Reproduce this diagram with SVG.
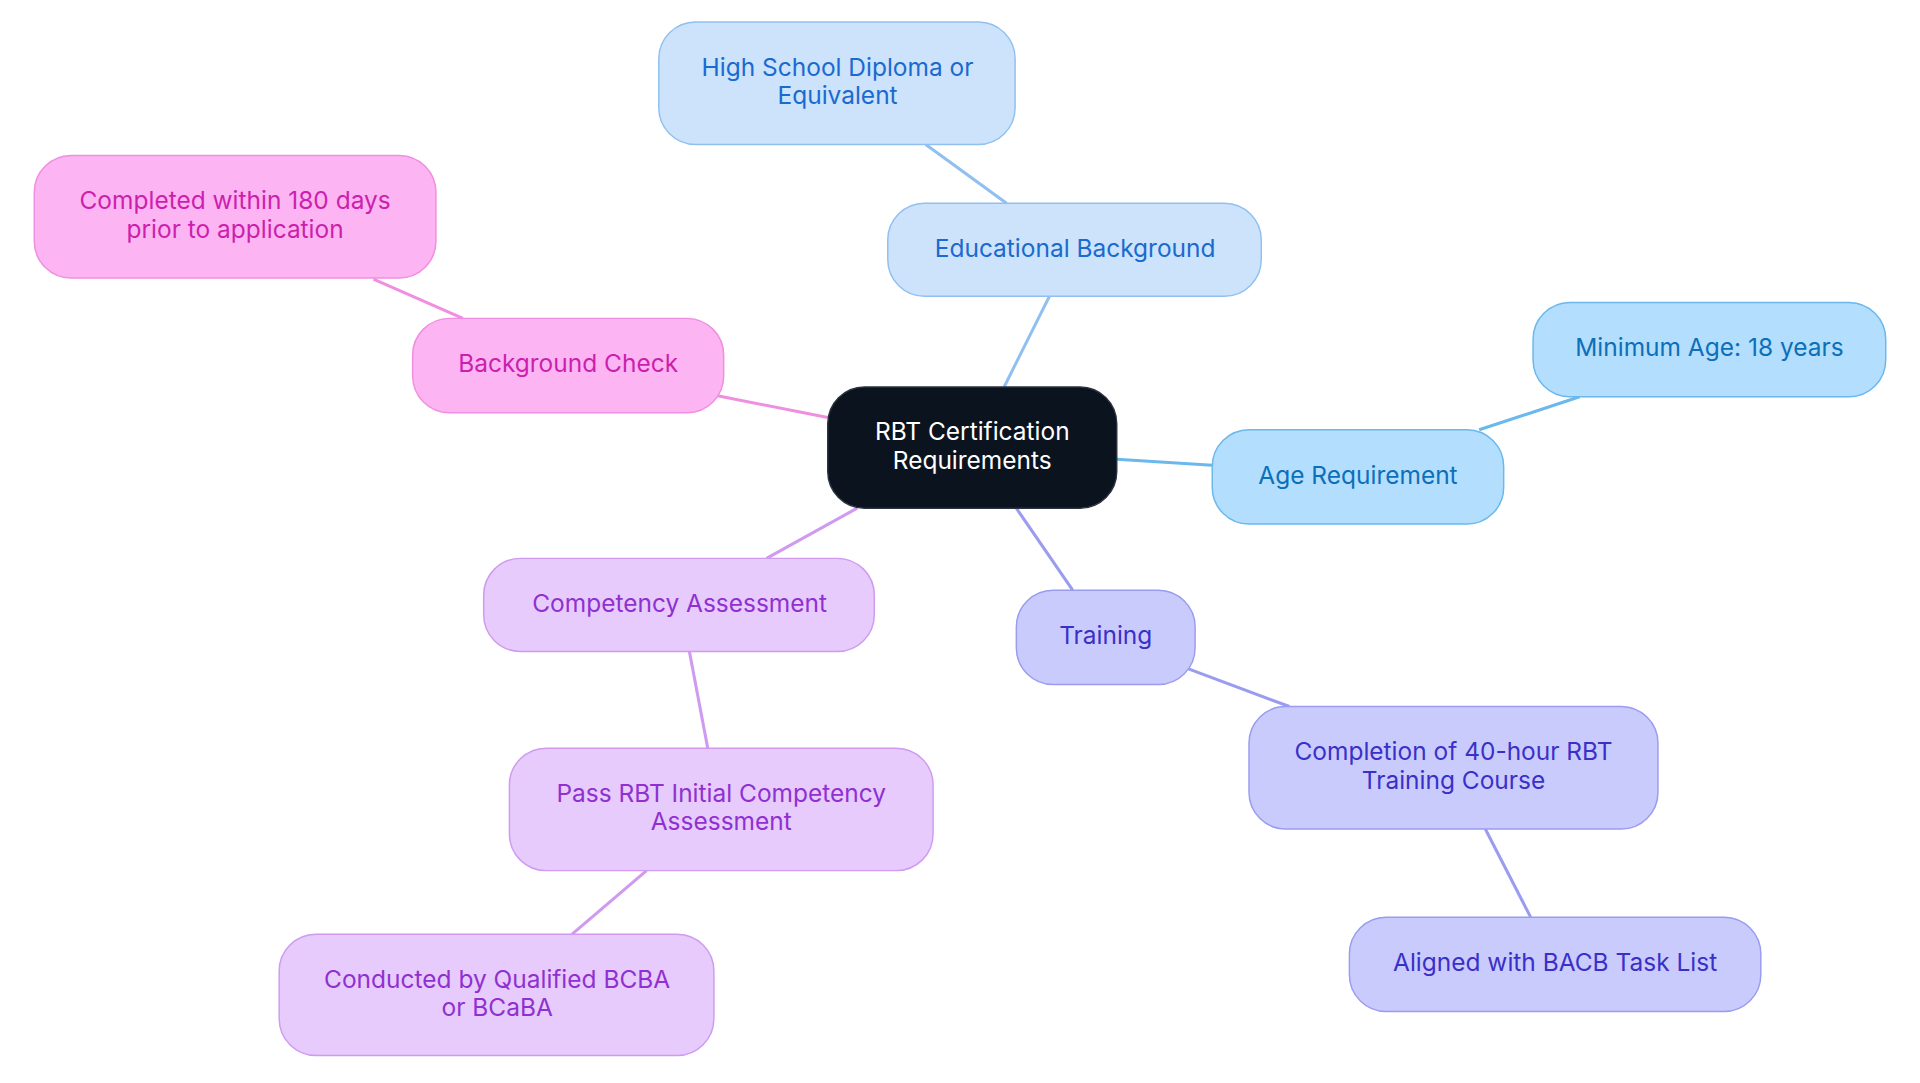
<svg xmlns="http://www.w3.org/2000/svg" width="1920" height="1083" viewBox="0 0 1920 1083">
<style>
text{font-family:Inter,"Noto Sans","Liberation Sans",sans-serif;font-size:20px;text-anchor:middle}
.e line{stroke-width:2.5;fill:none}
.c rect{fill:#0b131f;stroke:#2a3240;stroke-width:1.2}.c text{fill:#fff}
.b1 rect{fill:#cce3fb;stroke:#90c0f0;stroke-width:1.2}.b1 text{fill:#1a6ad0}
.b2 rect{fill:#b3defe;stroke:#6ab8ec;stroke-width:1.2}.b2 text{fill:#0d6fb8}
.pk rect{fill:#fcb5f2;stroke:#f08ee0;stroke-width:1.2}.pk text{fill:#cc1fae}
.pu rect{fill:#e6cbfc;stroke:#cf9af0;stroke-width:1.2}.pu text{fill:#9030d0}
.in rect{fill:#cacbfd;stroke:#9a9cf0;stroke-width:1.2}.in text{fill:#3a30c8}
</style>
<rect width="1920" height="1083" fill="#fff"/>
<g transform="scale(1.2245)">
<g id="connectors" class="e">
<line x1="820" y1="316" x2="857" y2="242" stroke="#90c0f0"/>
<line x1="822" y1="166" x2="756" y2="118" stroke="#90c0f0"/>
<line x1="912" y1="375" x2="990" y2="380" stroke="#6ab8ec"/>
<line x1="1208" y1="351" x2="1290" y2="324" stroke="#6ab8ec"/>
<line x1="676" y1="341" x2="585" y2="323" stroke="#f08ee0"/>
<line x1="378" y1="260" x2="305" y2="228" stroke="#f08ee0"/>
<line x1="700" y1="415" x2="626" y2="456" stroke="#cf9af0"/>
<line x1="563" y1="532" x2="578" y2="611" stroke="#cf9af0"/>
<line x1="528" y1="711" x2="467" y2="763" stroke="#cf9af0"/>
<line x1="830" y1="415" x2="876" y2="482" stroke="#9a9cf0"/>
<line x1="970" y1="546" x2="1053" y2="577" stroke="#9a9cf0"/>
<line x1="1213" y1="677" x2="1250" y2="749" stroke="#9a9cf0"/>
</g>
<g id="center" class="c"><rect x="676" y="316" width="236" height="99" rx="30"/><text x="794" y="359">RBT Certification</text><text x="794" y="383">Requirements</text></g>
<g id="edu" class="b1"><rect x="725" y="166" width="305" height="76" rx="30"/><text x="878" y="210">Educational Background</text></g>
<g id="hs" class="b1"><rect x="538" y="18" width="291" height="100" rx="30"/><text x="684" y="62">High School Diploma or</text><text x="684" y="85">Equivalent</text></g>
<g id="age" class="b2"><rect x="990" y="351" width="238" height="77" rx="30"/><text x="1109" y="395">Age Requirement</text></g>
<g id="minage" class="b2"><rect x="1252" y="247" width="288" height="77" rx="30"/><text x="1396" y="291">Minimum Age: 18 years</text></g>
<g id="bg" class="pk"><rect x="337" y="260" width="254" height="77" rx="30"/><text x="464" y="304">Background Check</text></g>
<g id="bgtime" class="pk"><rect x="28" y="127" width="328" height="100" rx="30"/><text x="192" y="171">Completed within 180 days</text><text x="192" y="194">prior to application</text></g>
<g id="comp" class="pu"><rect x="395" y="456" width="319" height="76" rx="30"/><text x="555" y="500">Competency Assessment</text></g>
<g id="pass" class="pu"><rect x="416" y="611" width="346" height="100" rx="30"/><text x="589" y="655">Pass RBT Initial Competency</text><text x="589" y="678">Assessment</text></g>
<g id="cond" class="pu"><rect x="228" y="763" width="355" height="99" rx="30"/><text x="406" y="807">Conducted by Qualified BCBA</text><text x="406" y="830">or BCaBA</text></g>
<g id="train" class="in"><rect x="830" y="482" width="146" height="77" rx="30"/><text x="903" y="526">Training</text></g>
<g id="course" class="in"><rect x="1020" y="577" width="334" height="100" rx="30"/><text x="1187" y="621">Completion of 40-hour RBT</text><text x="1187" y="644">Training Course</text></g>
<g id="bacb" class="in"><rect x="1102" y="749" width="336" height="77" rx="30"/><text x="1270" y="793">Aligned with BACB Task List</text></g>
</g>
</svg>
